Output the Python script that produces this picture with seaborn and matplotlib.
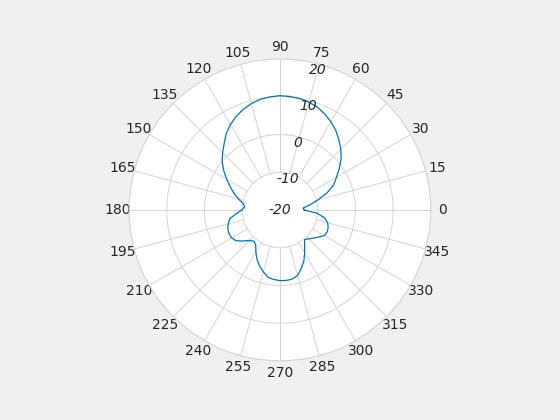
import numpy as np
import pandas as pd
import seaborn as sns
import matplotlib
matplotlib.use("Agg")
import matplotlib.pyplot as plt

# Radiation pattern (angle in degrees, gain in dB)
angles_deg = list(range(0, 365, 5))
gain_db = [-13.6, -13.8, -11.8, -9.5, -6.7, -4.3, -2.7, -0.8, 1.2, 2.8,
           4.3, 5.8, 7.0, 8.1, 9.0, 9.6, 10.0, 10.2, 10.3, 10.1,
           9.8, 9.2, 8.4, 7.4, 6.2, 4.8, 3.0, 1.5, 0.0, -1.8,
           -3.7, -5.5, -7.0, -8.6, -10.1, -10.6, -9.9, -8.3, -6.5, -5.8,
           -5.3, -5.1, -5.2, -5.8, -7.2, -8.6, -9.2, -8.8, -7.2, -5.6,
           -4.2, -3.0, -1.9, -1.5, -1.3, -1.25, -1.4, -2.0, -3.5, -5.0,
           -6.9, -8.6, -9.8, -9.2, -8.4, -7.5, -6.4, -6.2, -6.4, -6.9,
           -8.0, -10.1, -13.6]

theta_ticks = list(range(0, 360, 15))
r_ticks = [-20, -10, 0, 10, 20]

df = pd.DataFrame({"theta": np.deg2rad(angles_deg), "gain": gain_db})

sns.set_style("white")
plt.rcParams["font.family"] = ["DejaVu Sans"]

fig = plt.figure(figsize=(5.6, 4.2), dpi=100, facecolor="#f0f0f0")
ax = fig.add_axes([0.2304, 0.1405, 0.539, 0.719], projection="polar")
ax.set_facecolor("white")

grid_color = "#d4d4d4"
text_color = "#262626"
ax.set_ylim(-20, 20)
ax.set_xticks(np.deg2rad(theta_ticks))
ax.set_xticklabels([str(t) for t in theta_ticks], fontsize=10, color=text_color)
ax.set_yticks(r_ticks)
ax.set_yticklabels([])
ax.tick_params(axis="x", pad=-2)
ax.xaxis.grid(False)
ax.yaxis.grid(True, color=grid_color, linewidth=0.7)
ax.spines["polar"].set_color(grid_color)
ax.spines["polar"].set_linewidth(0.7)

# radial labels sit just inside their rings along the 75 degree spoke
for r in r_ticks:
    rr = r if r == -20 else r - 1.5
    ax.text(np.deg2rad(75), rr, str(r), fontsize=10, style="italic",
            color=text_color, ha="center", va="center", zorder=4)

# spokes stop at the -10 ring like the reference
for t in theta_ticks:
    ax.plot([np.deg2rad(t)] * 2, [-10, 20], color=grid_color, lw=0.7, zorder=1)

sns.lineplot(data=df, x="theta", y="gain", sort=False, ax=ax,
             color="#0072BD", linewidth=0.9, zorder=3)
ax.set_xlabel("")
ax.set_ylabel("")

fig.savefig("out.png", dpi=100, facecolor=fig.get_facecolor())
